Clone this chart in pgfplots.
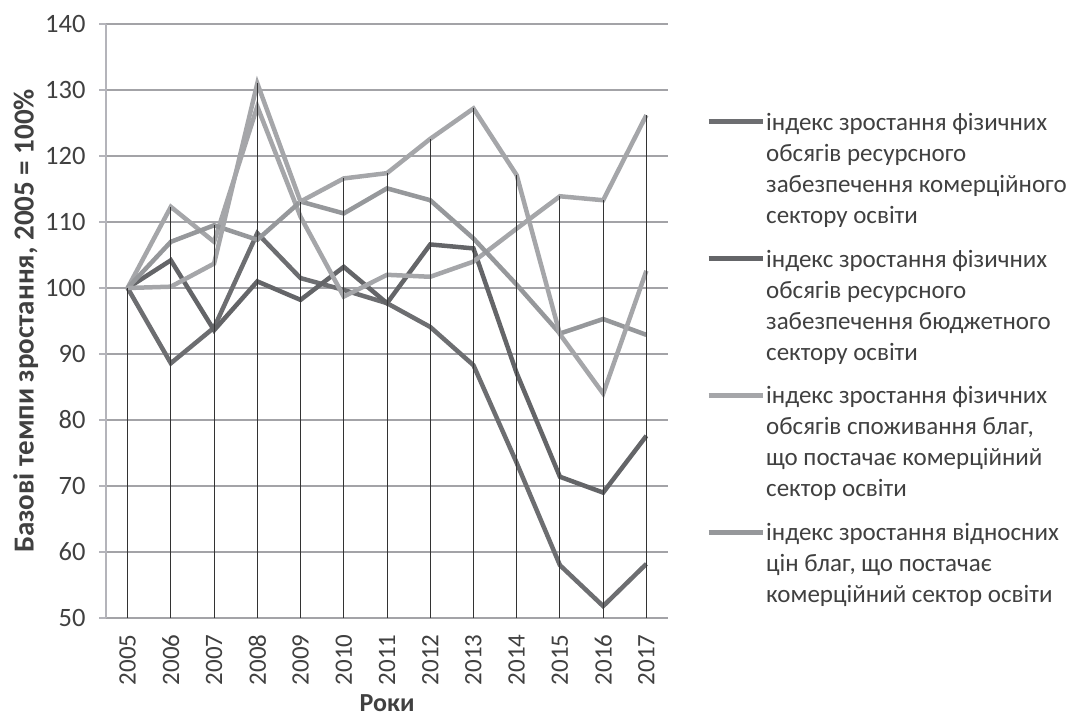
\documentclass[border=0pt]{standalone}
\usepackage{fontspec}
\setmainfont{Carlito}
\usepackage{pgfplots}
\pgfplotsset{compat=1.18}
\definecolor{darkg}{HTML}{6D6E71}
\definecolor{darkg2}{HTML}{646568}
\definecolor{lightg}{HTML}{A5A6A9}
\definecolor{medg}{HTML}{96989B}
\definecolor{gridg}{HTML}{A3A3A7}
\definecolor{axisg}{HTML}{B4B4BA}
\definecolor{txt}{HTML}{404040}
\pgfplotsset{
  legA/.style={legend image code/.code={\draw[##1, line width=5pt] (0pt,47pt) -- (54pt,47pt);}},
  legB/.style={legend image code/.code={\draw[##1, line width=5pt] (0pt,31.5pt) -- (54pt,31.5pt);}},
}
\begin{document}
\begin{tikzpicture}
\begin{axis}[
  scale only axis, width=562pt, height=594pt,
  xmin=2004.5, xmax=2017.5, ymin=50, ymax=140,
  xtick={2005,2006,2007,2008,2009,2010,2011,2012,2013,2014,2015,2016,2017},
  xticklabels={2005,2006,2007,2008,2009,2010,2011,2012,2013,2014,2015,2016,2017},
  ytick={50,60,70,80,90,100,110,120,130,140},
  yticklabels={50,60,70,80,90,100,110,120,130,140},
  x tick label style={rotate=90, anchor=east, font=\fontsize{25}{25}\selectfont, text=txt},
  y tick label style={font=\fontsize{26.5}{26.5}\selectfont, text=txt},
  xticklabel shift=6pt, yticklabel shift=10pt,
  x tick style={draw=none},
  y tick style={draw=axisg, line width=1.2pt},
  tick align=outside, major tick length=7pt,
  axis x line*=bottom, axis y line*=left,
  axis line style={-, draw=gridg, line width=1.2pt},
  y axis line style={draw=axisg, line width=1.5pt},
  ymajorgrids, grid style={draw=gridg, line width=1.2pt},
  xlabel={\bfseries Роки}, xlabel style={font=\fontsize{26}{26}\selectfont, text=txt, inner sep=0pt, yshift=-6pt},
  ylabel={\bfseries Базові темпи зростання, 2005 = 100\%},
  ylabel style={font=\fontsize{29}{29}\selectfont, text=txt},
  legend style={at={(1.0676,0.852)}, anchor=north west, draw=none, fill=none,
    inner sep=0pt, column sep=0pt, row sep=23pt,
    font=\fontsize{25}{31}\selectfont, text=txt, align=left,
    nodes={inner sep=1pt}},
  legend cell align=left,
  clip=true,
]
\addplot[darkg, line width=4.5pt, legA] coordinates {
(2005,100) (2006,88.6) (2007,94.0) (2008,108.3) (2009,101.5) (2010,99.7) (2011,97.7)
(2012,94.1) (2013,88.3) (2014,73.5) (2015,58.0) (2016,51.8) (2017,58.2)};
\addlegendentry{індекс зростання фізичних\\обсягів ресурсного\\забезпечення комерційного\\сектору освіти}
\addplot[darkg2, line width=4.5pt, legA] coordinates {
(2005,100) (2006,104.2) (2007,93.6) (2008,101.0) (2009,98.2) (2010,103.2) (2011,97.7)
(2012,106.6) (2013,106.0) (2014,87.1) (2015,71.4) (2016,69.0) (2017,77.6)};
\addlegendentry{індекс зростання фізичних\\обсягів ресурсного\\забезпечення бюджетного\\сектору освіти}
\addplot[lightg, line width=4.5pt, legA] coordinates {
(2005,100) (2006,112.3) (2007,107.0) (2008,127.5) (2009,110.8) (2010,98.7) (2011,102.0)
(2012,101.7) (2013,104.0) (2014,109.0) (2015,113.9) (2016,113.3) (2017,126.2)};
\addlegendentry{індекс зростання фізичних\\обсягів споживання благ,\\що постачає комерційний\\сектор освіти}
\addplot[medg, line width=4.5pt, legB] coordinates {
(2005,100) (2006,107.0) (2007,109.5) (2008,107.3) (2009,113.1) (2010,111.3) (2011,115.1)
(2012,113.3) (2013,107.5) (2014,100.5) (2015,93.1) (2016,95.3) (2017,92.9)};
\addlegendentry{індекс зростання відносних\\цін благ, що постачає\\комерційний сектор освіти}
\addplot[lightg, line width=4.5pt, forget plot] coordinates {
(2005,100) (2006,100.2) (2007,103.7) (2008,131.0) (2009,113.1) (2010,116.6) (2011,117.4)
(2012,122.6) (2013,127.2) (2014,117.1) (2015,93.0) (2016,84.0) (2017,102.6)};
\addplot[ycomb, draw=black!80, line width=1pt, forget plot] coordinates {
(2005,100) (2006,112.3) (2007,109.5) (2008,131.0) (2009,113.1) (2010,116.6) (2011,117.4)
(2012,122.6) (2013,127.2) (2014,117.1) (2015,113.9) (2016,113.3) (2017,126.2)};
\end{axis}
\pgfresetboundingbox
\path[use as bounding box] ([shift={(-106pt,-100pt)}]current axis.south west) rectangle ([shift={(963pt,618pt)}]current axis.south west);
\end{tikzpicture}
\end{document}
